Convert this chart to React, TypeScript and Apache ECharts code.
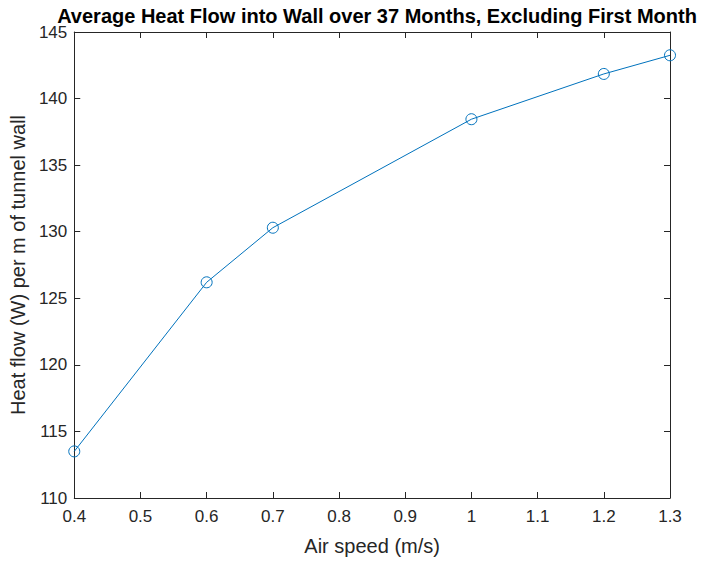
import React, { useEffect, useRef } from "react";
import * as echarts from "echarts";

const airSpeed = [0.4, 0.6, 0.7, 1.0, 1.2, 1.3];
const heatFlow = [113.5, 126.2, 130.3, 138.45, 141.85, 143.25];

const titleText = "Average Heat Flow into Wall over 37 Months, Excluding First Month";
const xName = "Air speed (m/s)";
const yName = "Heat flow (W) per m of tunnel wall";

const AX = "#262626";
const FONT = "Liberation Sans, Arial, Helvetica, sans-serif";

export default function App() {
  const ref = useRef<HTMLDivElement>(null);
  useEffect(() => {
    const chart = echarts.init(ref.current!, null, { renderer: "svg" });
    const lineStyle = { color: AX, width: 1 };
    chart.setOption({
      animation: false,
      backgroundColor: "#ffffff",
      title: {
        text: titleText,
        left: 372,
        textAlign: "center",
        top: 1,
        textStyle: { fontFamily: FONT, fontWeight: "bold", fontSize: 20, color: "#000" },
      },
      grid: { left: 73.5, right: 37, top: 32, bottom: 61 },
      xAxis: [
        {
          type: "value",
          min: 0.4,
          max: 1.3,
          interval: 0.1,
          name: xName,
          nameLocation: "middle",
          nameGap: 38,
          nameTextStyle: { fontFamily: FONT, fontSize: 20, color: AX },
          axisLine: { show: true, onZero: false, lineStyle },
          axisTick: { show: true, inside: true, length: 6, lineStyle },
          axisLabel: {
            fontFamily: FONT,
            fontSize: 17,
            color: AX,
            margin: 10,
            formatter: (v: number) => String(+v.toFixed(1)),
          },
          splitLine: { show: false },
        },
        {
          type: "value",
          position: "top",
          min: 0.4,
          max: 1.3,
          interval: 0.1,
          axisLine: { show: true, onZero: false, lineStyle },
          axisTick: { show: true, inside: true, length: 6, lineStyle },
          axisLabel: { show: false },
          splitLine: { show: false },
        },
      ],
      yAxis: [
        {
          type: "value",
          min: 110,
          max: 145,
          interval: 5,
          name: yName,
          nameLocation: "middle",
          nameGap: 44,
          nameTextStyle: { fontFamily: FONT, fontSize: 20, color: AX },
          axisLine: { show: true, onZero: false, lineStyle },
          axisTick: { show: true, inside: true, length: 6, lineStyle },
          axisLabel: { fontFamily: FONT, fontSize: 17, color: AX, margin: 7 },
          splitLine: { show: false },
        },
        {
          type: "value",
          position: "right",
          min: 110,
          max: 145,
          interval: 5,
          axisLine: { show: true, onZero: false, lineStyle },
          axisTick: { show: true, inside: true, length: 6, lineStyle },
          axisLabel: { show: false },
          splitLine: { show: false },
        },
      ],
      series: [
        {
          type: "line",
          data: airSpeed.map((x, i) => [x, heatFlow[i]]),
          symbol: "circle",
          symbolSize: 11,
          showSymbol: true,
          lineStyle: { color: "#0072BD", width: 1 },
          itemStyle: { color: "rgba(0,0,0,0)", borderColor: "#0072BD", borderWidth: 1 },
          clip: false,
        },
      ],
    });
    return () => chart.dispose();
  }, []);
  return <div ref={ref} style={{ width: 707, height: 561, position: "absolute", left: 0, top: 0 }} />;
}
